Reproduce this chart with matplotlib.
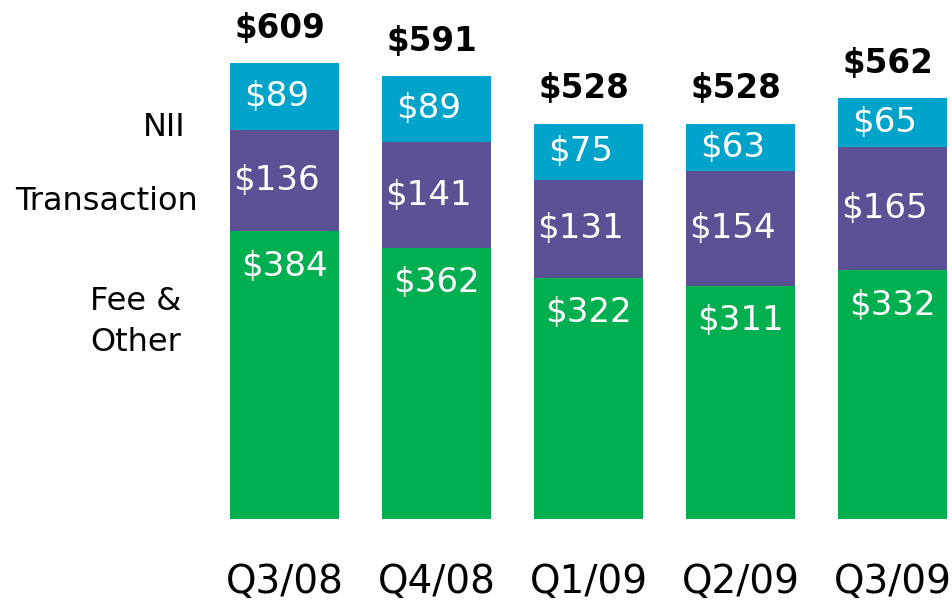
import matplotlib.pyplot as plt

quarters = ['Q3/08', 'Q4/08', 'Q1/09', 'Q2/09', 'Q3/09']
fee_other = [384, 362, 322, 311, 332]
transaction = [136, 141, 131, 154, 165]
nii = [89, 89, 75, 63, 65]
totals = [609, 591, 528, 528, 562]

green = '#00AF4F'
purple = '#5A5294'
teal = '#00A3C9'

fig = plt.figure(figsize=(9.52, 6), dpi=100)
ax = fig.add_axes([0, 81 / 600, 1, 519 / 600])

x = list(range(len(quarters)))
w = 0.72
bottom2 = [a + b for a, b in zip(fee_other, transaction)]

ax.bar(x, fee_other, w, color=green)
ax.bar(x, transaction, w, bottom=fee_other, color=purple)
ax.bar(x, nii, w, bottom=bottom2, color=teal)

ax.set_xlim(-284.5 / 152, (952 - 284.5) / 152)
ax.set_ylim(0, 519 / 0.749)

for i in x:
    # green label sits near the top of its segment
    ax.annotate(f'${fee_other[i]}', (i, fee_other[i]), xytext=(0, -25),
                textcoords='offset points', ha='center', va='center',
                color='white', fontsize=24.5)
    ax.text(i - 0.05, fee_other[i] + transaction[i] / 2, f'${transaction[i]}',
            ha='center', va='center', color='white', fontsize=24.5)
    ax.text(i - 0.05, bottom2[i] + nii[i] / 2, f'${nii[i]}',
            ha='center', va='center', color='white', fontsize=24.5)
    ax.annotate(f'${totals[i]}', (i - 0.03, totals[i]), xytext=(0, 25),
                textcoords='offset points', ha='center', va='center',
                color='black', fontsize=23.5, fontweight='bold')

ax.set_xticks(x)
ax.set_xticklabels(quarters, fontsize=28)
ax.tick_params(axis='x', length=0, pad=32)
ax.set_yticks([])
for s in ax.spines.values():
    s.set_visible(False)

fig.text(186 / 952, 1 - 127 / 600, 'NII', ha='right', va='center', fontsize=23)
fig.text(198 / 952, 1 - 202 / 600, 'Transaction', ha='right', va='center', fontsize=23)
fig.text(90 / 952, 1 - 322 / 600, 'Fee &\nOther', ha='left', va='center',
         fontsize=23, linespacing=1.4)

fig.savefig('out.png', dpi=100)
